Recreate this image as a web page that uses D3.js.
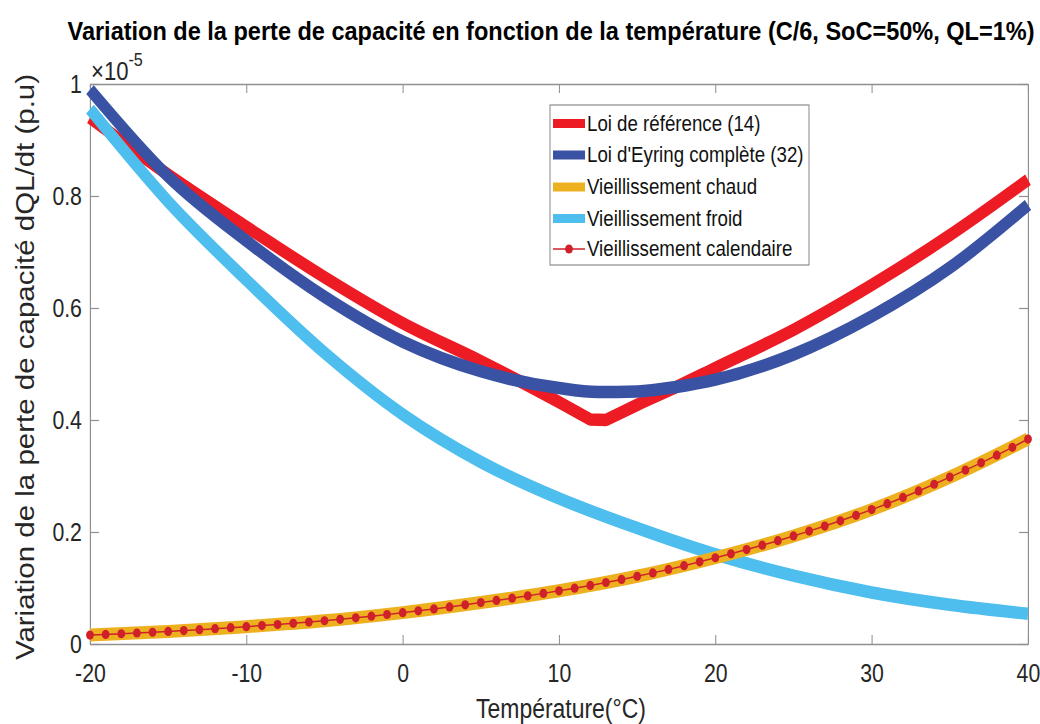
<!DOCTYPE html>
<html>
<head>
<meta charset="utf-8">
<script src="https://cdn.jsdelivr.net/npm/d3@7/dist/d3.min.js"></script>
<style>
  html, body { margin: 0; padding: 0; background: #fff; }
  svg { display: block; }
  text { font-family: "Liberation Sans", Arial, sans-serif; }
</style>
</head>
<body>
<svg id="chart"></svg>
<script>
// Temperature axis and tick labels
const xTicks = [-20, -10, 0, 10, 20, 30, 40];
const xTickLabels = ["-20", "-10", "0", "10", "20", "30", "40"];
const yTicks = [0, 0.2, 0.4, 0.6, 0.8, 1];
const yTickLabels = ["0", "0.2", "0.4", "0.6", "0.8", "1"];

// Loi de référence (14), ×1e-5 p.u — two branches meeting at the 12–13 °C minimum
const refTemps  = [-20, -15, -10, -5, 0, 5, 10, 12, 13, 15, 17.5, 20, 25, 30, 35, 40];
const refValues = [0.940, 0.838, 0.745, 0.655, 0.573, 0.505, 0.432, 0.401, 0.400, 0.427, 0.459, 0.493, 0.561, 0.641, 0.730, 0.829];

// Loi d'Eyring complète (32)
const eyTemps  = [-20, -15, -10, -5, 0, 5, 10, 12.5, 15, 17.5, 20, 25, 30, 35, 40];
const eyValues = [0.990, 0.835, 0.720, 0.620, 0.540, 0.487, 0.457, 0.450, 0.451, 0.459, 0.472, 0.517, 0.585, 0.672, 0.784];

// Vieillissement froid
const froidTemps  = [-20, -15, -10, -5, 0, 5, 10, 15, 20, 25, 30, 35, 40];
const froidValues = [0.955, 0.790, 0.650, 0.520, 0.410, 0.325, 0.260, 0.207, 0.160, 0.122, 0.092, 0.070, 0.054];

// Vieillissement chaud
const chaudTemps  = [-20, -15, -10, -5, 0, 5, 10, 15, 20, 25, 30, 35, 40];
const chaudValues = [0.016, 0.0225, 0.031, 0.0415, 0.056, 0.074, 0.095, 0.121, 0.154, 0.193, 0.240, 0.298, 0.366];

// Vieillissement calendaire, one point per degree from -20 to 40 °C
const calTemps = d3.range(-20, 41, 1);
const calValues = [
  0.0160, 0.0171, 0.0183, 0.0196, 0.0210, 0.0225,
  0.0240, 0.0256, 0.0273, 0.0291, 0.0310,
  0.0329, 0.0348, 0.0369, 0.0391, 0.0415,
  0.0441, 0.0468, 0.0497, 0.0527, 0.0560,
  0.0592, 0.0626, 0.0662, 0.0700, 0.0740,
  0.0778, 0.0818, 0.0860, 0.0904, 0.0950,
  0.0997, 0.1046, 0.1098, 0.1153, 0.1210,
  0.1270, 0.1332, 0.1398, 0.1467, 0.1540,
  0.1611, 0.1686, 0.1764, 0.1845, 0.1930,
  0.2016, 0.2106, 0.2200, 0.2298, 0.2400,
  0.2506, 0.2617, 0.2733, 0.2853, 0.2980,
  0.3105, 0.3235, 0.3371, 0.3512, 0.3660
];

const legendLabels = [
  "Loi de référence (14)",
  "Loi d'Eyring complète (32)",
  "Vieillissement chaud",
  "Vieillissement froid",
  "Vieillissement calendaire"
];

const COL_REF = "#ED1C24";
const COL_EY = "#3A52A3";
const COL_CHAUD = "#EDB120";
const COL_FROID = "#4DBEEE";
const COL_CAL = "#D0202A";
const AXIS_COL = "#8f8f8f";
const TEXT_COL = "#262626";

// The figure is drawn in a wider virtual space and squeezed horizontally.
const W = 1040, H = 724;
const SX = 0.85;
const VW = W / SX;
const vx = px => px / SX;

const svg = d3.select("#chart")
  .attr("width", W).attr("height", H)
  .attr("viewBox", `0 0 ${VW} ${H}`)
  .attr("preserveAspectRatio", "none");

const pLeft = vx(90), pRight = vx(1028), pTop = 84, pBottom = 644;

const x = d3.scaleLinear().domain([-20, 40]).range([pLeft, pRight]);
const y = d3.scaleLinear().domain([0, 1]).range([pBottom, pTop]);

svg.append("rect").attr("width", VW).attr("height", H).attr("fill", "#fff");

// Title
svg.append("text")
  .attr("x", vx(551)).attr("y", 40)
  .attr("text-anchor", "middle")
  .attr("font-size", 26).attr("font-weight", "bold").attr("fill", "#000")
  .attr("textLength", vx(967)).attr("lengthAdjust", "spacingAndGlyphs")
  .text("Variation de la perte de capacité en fonction de la température (C/6, SoC=50%, QL=1%)");

// Axes (inward ticks on all four sides)
const axTick = 9;
const gx = svg.append("g").attr("transform", `translate(0,${pBottom})`)
  .call(d3.axisBottom(x).tickValues(xTicks)
    .tickFormat((d, i) => xTickLabels[i])
    .tickSizeInner(-axTick).tickSizeOuter(0).tickPadding(20));
const gxTop = svg.append("g").attr("transform", `translate(0,${pTop})`)
  .call(d3.axisTop(x).tickValues(xTicks).tickFormat("")
    .tickSizeInner(-axTick).tickSizeOuter(0));
const gy = svg.append("g").attr("transform", `translate(${pLeft},0)`)
  .call(d3.axisLeft(y).tickValues(yTicks)
    .tickFormat((d, i) => yTickLabels[i])
    .tickSizeInner(-axTick / SX).tickSizeOuter(0).tickPadding(9.5));
const gyRight = svg.append("g").attr("transform", `translate(${pRight},0)`)
  .call(d3.axisRight(y).tickValues(yTicks).tickFormat("")
    .tickSizeInner(-axTick / SX).tickSizeOuter(0));

[gx, gxTop, gy, gyRight].forEach(g => {
  g.select(".domain").attr("stroke", AXIS_COL).attr("stroke-width", 1.4);
  g.selectAll(".tick line").attr("stroke", AXIS_COL).attr("stroke-width", 1.2);
  g.selectAll(".tick text")
    .attr("font-size", 25).attr("fill", TEXT_COL)
    .style("font-family", '"Liberation Sans", Arial, sans-serif');
});

// Exponent marker
const expo = svg.append("text")
  .attr("x", vx(91)).attr("y", 80)
  .attr("font-size", 26).attr("fill", TEXT_COL);
expo.append("tspan").text("×10");
expo.append("tspan").attr("font-size", 19).attr("dy", -14).text("-5");

// Axis titles
svg.append("text")
  .attr("x", vx(561)).attr("y", 718)
  .attr("text-anchor", "middle")
  .attr("font-size", 27).attr("fill", TEXT_COL)
  .text("Température(°C)");

svg.append("text")
  .attr("transform", `translate(${vx(34)},${367}) rotate(-90)`)
  .attr("text-anchor", "middle")
  .attr("font-size", 29.5).attr("fill", TEXT_COL)
  .text("Variation de la perte de capacité dQL/dt (p.u)");

// Curves
const lineOf = (temps, vals, curve) => d3.line()
  .x((d, i) => x(temps[i]))
  .y(d => y(d))
  .curve(curve)(vals);

const plot = svg.append("g")
  .attr("fill", "none")
  .attr("stroke-linejoin", "round");

// Reference law: smooth branches on each side, straight segment across the minimum
const iMinL = refTemps.indexOf(12), iMinR = refTemps.indexOf(13);
const refPath =
  lineOf(refTemps.slice(0, iMinL + 1), refValues.slice(0, iMinL + 1), d3.curveMonotoneX) +
  lineOf(refTemps.slice(iMinL, iMinR + 1), refValues.slice(iMinL, iMinR + 1), d3.curveLinear).replace(/^M[^L]*/, "") +
  lineOf(refTemps.slice(iMinR), refValues.slice(iMinR), d3.curveMonotoneX).replace(/^M[^CL]*/, "");
plot.append("path")
  .attr("d", refPath)
  .attr("stroke", COL_REF).attr("stroke-width", 12.5);

plot.append("path")
  .attr("d", lineOf(eyTemps, eyValues, d3.curveMonotoneX))
  .attr("stroke", COL_EY).attr("stroke-width", 12.5);

plot.append("path")
  .attr("d", lineOf(froidTemps, froidValues, d3.curveMonotoneX))
  .attr("stroke", COL_FROID).attr("stroke-width", 12.5);

plot.append("path")
  .attr("d", lineOf(chaudTemps, chaudValues, d3.curveMonotoneX))
  .attr("stroke", COL_CHAUD).attr("stroke-width", 13);

plot.append("path")
  .attr("d", lineOf(calTemps, calValues, d3.curveLinear))
  .attr("stroke", COL_CAL).attr("stroke-width", 1.5);

svg.append("g").selectAll("circle")
  .data(calValues)
  .join("circle")
  .attr("cx", (d, i) => x(calTemps[i]))
  .attr("cy", d => y(d))
  .attr("r", 4.6)
  .attr("fill", COL_CAL);

// Legend
const lg = svg.append("g");
lg.append("rect")
  .attr("x", vx(550)).attr("y", 105)
  .attr("width", vx(809) - vx(550)).attr("height", 160)
  .attr("fill", "#fff").attr("stroke", "#8a8a8a").attr("stroke-width", 1.2);

const rowY = [123.5, 155, 187, 218.5, 249];
const swatchCols = [COL_REF, COL_EY, COL_CHAUD, COL_FROID, null];
legendLabels.forEach((lab, i) => {
  const cy = rowY[i];
  if (swatchCols[i]) {
    lg.append("line")
      .attr("x1", vx(553)).attr("x2", vx(585))
      .attr("y1", cy).attr("y2", cy)
      .attr("stroke", swatchCols[i]).attr("stroke-width", 9);
  } else {
    lg.append("line")
      .attr("x1", vx(553)).attr("x2", vx(585))
      .attr("y1", cy).attr("y2", cy)
      .attr("stroke", COL_CAL).attr("stroke-width", 1.5);
    lg.append("circle")
      .attr("cx", vx(569)).attr("cy", cy).attr("r", 4.6)
      .attr("fill", COL_CAL);
  }
  lg.append("text")
    .attr("x", vx(587)).attr("y", cy + 7.5)
    .attr("font-size", 22).attr("fill", "#111")
    .text(lab);
});
</script>
</body>
</html>
